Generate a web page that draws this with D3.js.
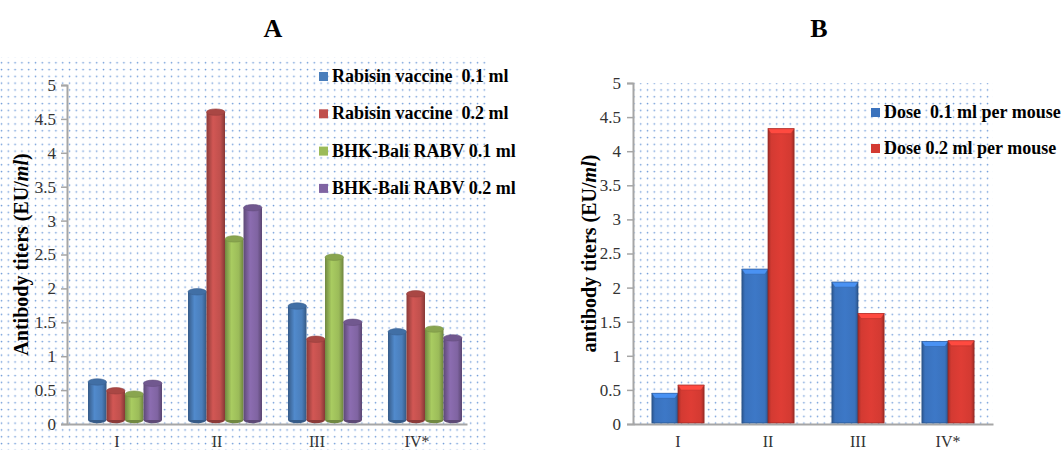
<!DOCTYPE html>
<html><head><meta charset="utf-8">
<script src="https://cdn.jsdelivr.net/npm/d3@7"></script>
<style>body{margin:0;background:#fff}svg{display:block}</style>
</head><body>
<svg id="c" width="1062" height="450"></svg>
<script>
// ---- data ----
const categories = ["I", "II", "III", "IV*"];
const seriesA = ["Rabisin vaccine  0.1 ml", "Rabisin vaccine  0.2 ml", "BHK-Bali RABV 0.1 ml", "BHK-Bali RABV 0.2 ml"];
const rabisin01 = [0.62, 1.95, 1.74, 1.36];
const rabisin02 = [0.49, 4.60, 1.25, 1.92];
const bali01 = [0.44, 2.73, 2.46, 1.40];
const bali02 = [0.60, 3.19, 1.50, 1.27];
const seriesB = ["Dose  0.1 ml per mouse", "Dose 0.2 ml per mouse"];
const dose01 = [0.45, 2.27, 2.08, 1.21];
const dose02 = [0.57, 4.33, 1.62, 1.22];
const yTicks = [0, 0.5, 1, 1.5, 2, 2.5, 3, 3.5, 4, 4.5, 5];
const colorsA = ["#4a7ebb", "#c0504d", "#9bbb59", "#8064a2"];
const colorsB = ["#3a72bd", "#d33a32"];

const svg = d3.select("#c");
const defs = svg.append("defs");
const pat = defs.append("pattern").attr("id", "dots").attr("patternUnits", "userSpaceOnUse")
  .attr("width", 6.8).attr("height", 6.8);
pat.append("circle").attr("cx", 1.5).attr("cy", 1.5).attr("r", 0.85).attr("fill", "#6f9bd8");

function cylGrad(id, c) {
  const g = defs.append("linearGradient").attr("id", id).attr("x1", 0).attr("x2", 1).attr("y1", 0).attr("y2", 0);
  const col = d3.color(c);
  g.append("stop").attr("offset", "0%").attr("stop-color", col.darker(0.9));
  g.append("stop").attr("offset", "35%").attr("stop-color", col.brighter(0.25));
  g.append("stop").attr("offset", "75%").attr("stop-color", col);
  g.append("stop").attr("offset", "100%").attr("stop-color", col.darker(1.0));
}
function boxGrad(id, c) {
  const g = defs.append("linearGradient").attr("id", id).attr("x1", 0).attr("x2", 1).attr("y1", 0).attr("y2", 0);
  const col = d3.color(c);
  g.append("stop").attr("offset", "0%").attr("stop-color", col.darker(0.8));
  g.append("stop").attr("offset", "12%").attr("stop-color", col);
  g.append("stop").attr("offset", "50%").attr("stop-color", col.brighter(0.15));
  g.append("stop").attr("offset", "88%").attr("stop-color", col);
  g.append("stop").attr("offset", "100%").attr("stop-color", col.darker(0.8));
}
colorsA.forEach((c, i) => cylGrad("cyl" + i, c));
colorsB.forEach((c, i) => boxGrad("box" + i, c));

const serif = "'Liberation Serif','Times New Roman',serif";

// ---------- Panel A ----------
svg.append("rect").attr("x", 0).attr("y", 57).attr("width", 486).attr("height", 393).attr("fill", "url(#dots)");
const A = { x0: 67, x1: 467, y0: 424, y1: 85 };
const depthShift = 8; // 3-D depth offset of the cylinders
const yA = d3.scaleLinear().domain([0, 5]).range([A.y0, A.y1]);
const xA = d3.scaleBand().domain(categories).range([A.x0, A.x1]).paddingInner(0.26).paddingOuter(0.13);
const xAi = d3.scaleBand().domain(d3.range(4)).range([0, xA.bandwidth()]);
const dataA = [rabisin01, rabisin02, bali01, bali02];

const gA = svg.append("g");
const axA = gA.append("g").attr("transform", `translate(${A.x0},0)`)
  .call(d3.axisLeft(yA).tickValues(yTicks).tickSize(6).tickPadding(5).tickFormat(d3.format("")));
const axBotA = gA.append("g").attr("transform", `translate(0,${A.y0})`)
  .call(d3.axisBottom(xA).tickSize(0).tickPadding(12));
[axA, axBotA].forEach(a => {
  a.selectAll("path").attr("stroke", "#a6a6a6").attr("stroke-width", 2);
  a.selectAll("line").attr("stroke", "#a6a6a6").attr("stroke-width", 1.5);
  a.selectAll("text").attr("font-family", serif).attr("font-size", 17).attr("fill", "#333");
});
axBotA.selectAll("text").attr("font-size", 16);

categories.forEach((cat, ci) => {
  dataA.forEach((arr, si) => {
    const v = arr[ci];
    const x = xA(cat) + xAi(si) + depthShift;
    const w = xAi.bandwidth();
    const yt = yA(v), yb = A.y0 - 4;
    const ry = 3.2;
    const col = d3.color(colorsA[si]);
    gA.append("ellipse").attr("cx", x + w / 2).attr("cy", yb).attr("rx", w / 2).attr("ry", ry).attr("fill", col.darker(0.9));
    gA.append("rect").attr("x", x).attr("y", yt).attr("width", w).attr("height", yb - yt).attr("fill", `url(#cyl${si})`);
    gA.append("ellipse").attr("cx", x + w / 2).attr("cy", yt).attr("rx", w / 2).attr("ry", ry)
      .attr("fill", col.darker(0.35)).attr("stroke", col.darker(0.7)).attr("stroke-width", 0.6);
  });
});

gA.append("text").attr("transform", `translate(28,${(A.y0 + A.y1) / 2}) rotate(-90)`)
  .attr("text-anchor", "middle").attr("font-family", serif).attr("font-weight", "bold").attr("font-size", 20)
  .call(t => { t.append("tspan").text("Antibody titers (EU/"); t.append("tspan").attr("font-style", "italic").text("ml"); t.append("tspan").text(")"); });

const legA = gA.append("g");
seriesA.forEach((s, i) => {
  const y = 76 + i * 37.3;
  legA.append("rect").attr("x", 319).attr("y", y - 4).attr("width", 9).attr("height", 9).attr("fill", colorsA[i]);
  legA.append("text").attr("x", 332).attr("y", y + 6).attr("font-family", serif).attr("font-weight", "bold")
    .attr("font-size", 18).style("white-space", "pre").text(s);
});

svg.append("text").attr("x", 273).attr("y", 37).attr("text-anchor", "middle").attr("font-family", serif)
  .attr("font-weight", "bold").attr("font-size", 26).text("A");

// ---------- Panel B ----------
const B = { x0: 633, x1: 993, y0: 424, y1: 83 };
svg.append("rect").attr("x", B.x0).attr("y", B.y1).attr("width", B.x1 - B.x0).attr("height", B.y0 - B.y1).attr("fill", "url(#dots)");
const yB = d3.scaleLinear().domain([0, 5]).range([B.y0, B.y1]);
const xB = d3.scaleBand().domain(categories).range([B.x0, B.x1]).paddingInner(0.42).paddingOuter(0.21);
const xBi = d3.scaleBand().domain(d3.range(2)).range([0, xB.bandwidth()]);
const dataB = [dose01, dose02];
const gB = svg.append("g");
const axB = gB.append("g").attr("transform", `translate(${B.x0},0)`)
  .call(d3.axisLeft(yB).tickValues(yTicks).tickSize(6).tickPadding(6).tickFormat(d3.format("")));
const axBotB = gB.append("g").attr("transform", `translate(0,${B.y0})`)
  .call(d3.axisBottom(xB).tickSize(0).tickPadding(12));
[axB, axBotB].forEach(a => {
  a.selectAll("path").attr("stroke", "#a6a6a6").attr("stroke-width", 2);
  a.selectAll("line").attr("stroke", "#a6a6a6").attr("stroke-width", 1.5);
  a.selectAll("text").attr("font-family", serif).attr("font-size", 17).attr("fill", "#333");
});
axBotB.selectAll("text").attr("font-size", 16);

categories.forEach((cat, ci) => {
  dataB.forEach((arr, si) => {
    const v = arr[ci];
    const x = xB(cat) + xBi(si);
    const w = xBi.bandwidth();
    const yt = yB(v), yb = B.y0 - 1;
    const col = d3.color(colorsB[si]);
    gB.append("rect").attr("x", x).attr("y", yt).attr("width", w).attr("height", yb - yt)
      .attr("fill", `url(#box${si})`).attr("stroke", col.darker(1)).attr("stroke-width", 0.7);
    const b = 5;
    gB.append("path").attr("d", `M${x},${yt}L${x + w},${yt}L${x + w - 3},${yt + b}L${x + 3},${yt + b}Z`)
      .attr("fill", col.brighter(0.7)).attr("stroke", col.darker(0.5)).attr("stroke-width", 0.5);
  });
});

gB.append("text").attr("transform", `translate(596,${(B.y0 + B.y1) / 2}) rotate(-90)`)
  .attr("text-anchor", "middle").attr("font-family", serif).attr("font-weight", "bold").attr("font-size", 20)
  .call(t => { t.append("tspan").text("antibody titers (EU/"); t.append("tspan").attr("font-style", "italic").text("ml"); t.append("tspan").text(")"); });

const legB = gB.append("g");
seriesB.forEach((s, i) => {
  const y = 112 + i * 36;
  legB.append("rect").attr("x", 871).attr("y", y - 4).attr("width", 9).attr("height", 9).attr("fill", colorsB[i]);
  legB.append("text").attr("x", 884).attr("y", y + 6).attr("font-family", serif).attr("font-weight", "bold")
    .attr("font-size", 18).style("white-space", "pre").text(s);
});

svg.append("text").attr("x", 819).attr("y", 37).attr("text-anchor", "middle").attr("font-family", serif)
  .attr("font-weight", "bold").attr("font-size", 26).text("B");
</script>
</body></html>
